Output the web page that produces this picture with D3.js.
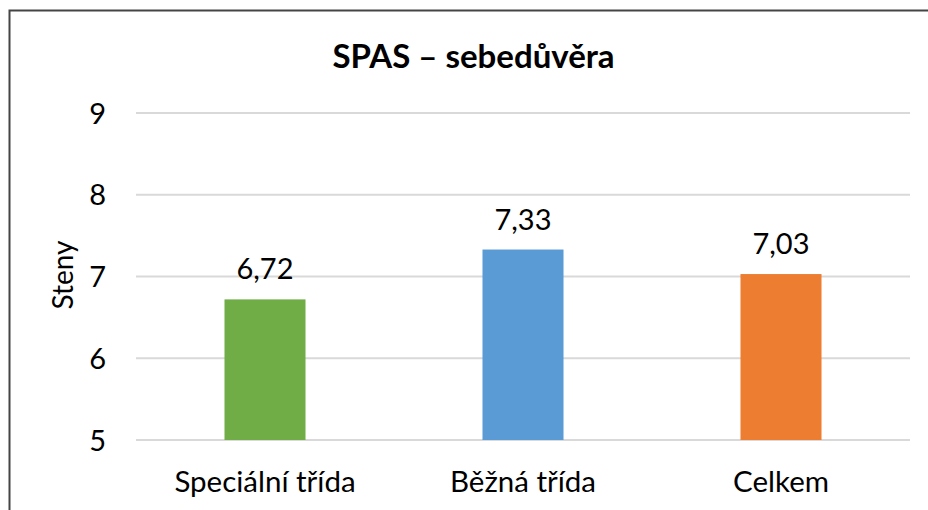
<!DOCTYPE html>
<html>
<head>
<meta charset="utf-8">
<script src="https://cdn.jsdelivr.net/npm/d3@7"></script>
<style>
  body { margin: 0; background: white; }
</style>
</head>
<body>
<svg id="chart" width="928" height="510"></svg>
<script>
var svg = d3.select("#chart"),
    width = 928,
    height = 510;

var data = [
  {"name": "Speciální třída", "value": 6.72, "color": "#70ad47"},
  {"name": "Běžná třída", "value": 7.33, "color": "#5b9bd5"},
  {"name": "Celkem", "value": 7.03, "color": "#ed7d31"}
];

var font = "Lato, 'Open Sans', sans-serif";

// outer frame, runs past right and bottom edge
svg.append("rect")
  .attr("x", 9.5)
  .attr("y", 10.5)
  .attr("width", 940)
  .attr("height", 520)
  .attr("fill", "white")
  .attr("stroke", "#444")
  .attr("stroke-width", 2);

var scale_x = d3.scaleBand()
  .domain(data.map(function(d) { return d.name; }))
  .range([136, 910])
  .paddingInner(0.686)
  .paddingOuter(0.343);

var scale_y = d3.scaleLinear()
  .domain([5, 9])
  .range([440, 113]);

// gridlines
svg.append("g").selectAll("line")
  .data(scale_y.ticks(4))
  .enter().append("line")
  .attr("x1", 136)
  .attr("x2", 910)
  .attr("y1", function(d) { return scale_y(d); })
  .attr("y2", function(d) { return scale_y(d); })
  .attr("stroke", "#d9d9d9")
  .attr("stroke-width", 2);

// y tick labels
svg.append("g").selectAll("text")
  .data(scale_y.ticks(4))
  .enter().append("text")
  .attr("x", 106)
  .attr("y", function(d) { return scale_y(d) + 10.5; })
  .attr("text-anchor", "end")
  .attr("font-family", font)
  .attr("font-size", 29)
  .attr("fill", "black")
  .text(function(d) { return d; });

// bars
svg.append("g").selectAll("rect")
  .data(data)
  .enter().append("rect")
  .attr("x", function(d) { return scale_x(d.name); })
  .attr("y", function(d) { return scale_y(d.value); })
  .attr("width", scale_x.bandwidth())
  .attr("height", function(d) { return scale_y(5) - scale_y(d.value); })
  .attr("fill", function(d) { return d.color; });

// value labels
svg.append("g").selectAll("text")
  .data(data)
  .enter().append("text")
  .attr("x", function(d) { return scale_x(d.name) + scale_x.bandwidth() / 2; })
  .attr("y", function(d) { return scale_y(d.value) - 20; })
  .attr("text-anchor", "middle")
  .attr("font-family", font)
  .attr("font-size", 29)
  .attr("fill", "black")
  .text(function(d) { return d3.format(".2f")(d.value).replace(".", ","); });

// category labels
svg.append("g").selectAll("text")
  .data(data)
  .enter().append("text")
  .attr("x", function(d) { return scale_x(d.name) + scale_x.bandwidth() / 2; })
  .attr("y", 492)
  .attr("text-anchor", "middle")
  .attr("font-family", font)
  .attr("font-size", 29.5)
  .attr("fill", "black")
  .text(function(d) { return d.name; });

// title
svg.append("text")
  .attr("x", 473.5)
  .attr("y", 68)
  .attr("text-anchor", "middle")
  .attr("font-family", font)
  .attr("font-size", 33)
  .attr("font-weight", "bold")
  .attr("fill", "black")
  .text("SPAS – sebedůvěra");

// y axis title
svg.append("text")
  .attr("transform", "translate(73," + 275 + ") rotate(-90)")
  .attr("text-anchor", "middle")
  .attr("font-family", font)
  .attr("font-size", 28)
  .attr("fill", "black")
  .text("Steny");
</script>
</body>
</html>
